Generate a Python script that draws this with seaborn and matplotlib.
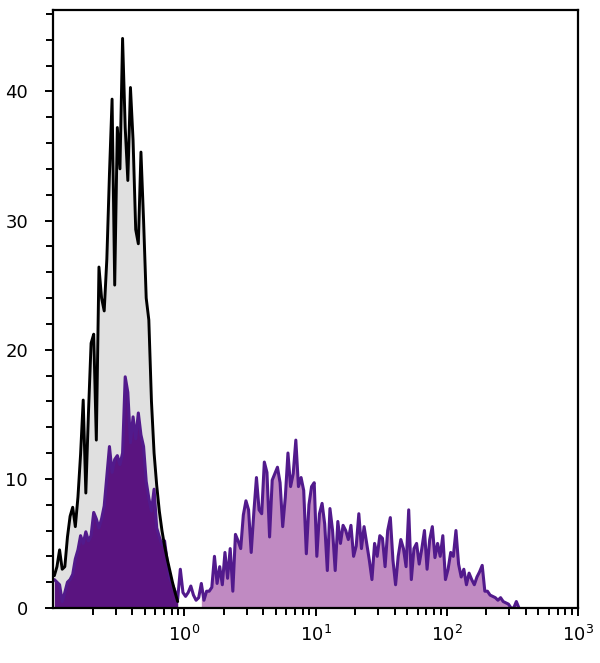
import numpy as np
import pandas as pd
import matplotlib
matplotlib.use("Agg")
import matplotlib.pyplot as plt
import seaborn as sns
from matplotlib.ticker import FixedLocator, LogLocator, NullFormatter, LogFormatterMathtext

# Histogram grid (log10 units): bins of 1/50 decade starting at 10^-1
BIN_START = -1.0
BIN_WIDTH = 0.02

# Isotype control (black outline, grey fill), counts per bin from 10^-1 upward
isotype_counts = [2.5, 3.2, 4.5, 3.0, 3.2, 5.5, 7.1, 7.8, 6.3, 8.6,
                  11.9, 16.1, 8.9, 15.1, 20.5, 21.2, 13.0, 26.4, 24.0, 23.0,
                  27.0, 33.6, 39.4, 25.0, 37.2, 34.0, 44.1, 37.2, 33.1, 40.3,
                  36.2, 29.3, 28.2, 35.3, 30.0, 24.0, 22.3, 16.0, 12.0, 9.5,
                  7.5, 6.0, 4.8, 3.8, 2.9, 2.0, 1.2, 0.5]

# Stained sample (purple outline), counts per bin from 10^-1 upward
stained_counts = [2.2, 2.0, 1.8, 0.5, 1.2, 2.0, 2.2, 2.6, 3.8, 4.5,
                  5.6, 5.0, 5.9, 5.2, 5.6, 7.4, 6.9, 6.2, 6.9, 7.9,
                  10.2, 12.5, 10.5, 11.5, 11.8, 11.1, 12.0, 17.9, 16.7, 12.8,
                  14.8, 13.1, 15.1, 13.4, 12.5, 9.8, 8.5, 7.5, 9.2, 6.2,
                  5.5, 4.9, 5.2, 3.6, 2.3, 1.8, 1.3, 0.7, 3.0, 1.2,
                  0.9, 1.2, 1.7, 1.0, 0.6, 0.8, 1.9, 0.6, 1.3, 1.3,
                  1.6, 4.0, 1.9, 3.2, 1.8, 4.3, 2.3, 4.6, 1.3, 5.7,
                  5.2, 4.6, 7.2, 8.3, 7.6, 4.3, 7.4, 10.1, 7.6, 7.3,
                  11.3, 10.5, 5.5, 9.9, 10.4, 10.9, 9.7, 6.3, 8.6, 12.0,
                  9.4, 10.4, 13.0, 9.4, 10.1, 9.1, 4.2, 8.0, 9.4, 9.7,
                  4.0, 7.3, 8.1, 6.5, 2.9, 7.7, 6.0, 2.9, 6.7, 5.0,
                  6.4, 6.0, 5.3, 6.4, 4.0, 4.8, 7.3, 4.6, 6.3, 5.0,
                  3.7, 2.2, 5.0, 4.0, 5.6, 5.4, 3.2, 6.0, 7.0, 3.7,
                  1.8, 4.0, 5.3, 4.6, 3.2, 7.6, 2.2, 4.6, 5.0, 3.4,
                  4.6, 6.0, 3.0, 5.3, 6.3, 3.9, 5.0, 4.0, 5.6, 2.2,
                  3.0, 4.3, 4.0, 6.0, 3.4, 2.4, 3.0, 1.8, 2.7, 2.2,
                  1.8, 2.4, 2.8, 3.3, 1.3, 1.3, 1.0, 0.9, 0.8, 0.6,
                  0.8, 0.5, 0.4, 0.3, 0.0, 0.0, 0.5, 0.0]

# gates (bin indices) for the two fills of the stained sample
NEG_GATE = (0, 48)      # dark purple fill
POS_GATE = (56, len(stained_counts))  # light purple fill

y_ticks = [0, 10, 20, 30, 40]
x_ticks = [1, 10, 100, 1000]

GREY = "#e0e0e0"
DARK_PURPLE = "#5a1480"
LINE_PURPLE = "#521a8c"
LIGHT_PURPLE = "#c08ac2"


def bin_centers(n, offset=0):
    return 10 ** (BIN_START + BIN_WIDTH * (np.arange(offset, offset + n) + 0.5))


iso_df = pd.DataFrame({"x": bin_centers(len(isotype_counts)), "w": isotype_counts})
st_df = pd.DataFrame({"x": bin_centers(len(stained_counts)), "w": stained_counts})
neg_df = st_df.iloc[NEG_GATE[0]:NEG_GATE[1]]
pos_df = st_df.iloc[POS_GATE[0]:POS_GATE[1]]

sns.set_style("ticks")
plt.rcParams["font.family"] = ["DejaVu Sans"]

fig = plt.figure(figsize=(6.0, 6.63), dpi=100)
ax = fig.add_axes([53 / 600, 1 - 608 / 663, 525 / 600, 598 / 663])


def hist(df, start_bin, **kw):
    n = len(df)
    sns.histplot(data=df, x="x", weights="w", log_scale=True,
                 binwidth=BIN_WIDTH,
                 binrange=(BIN_START + BIN_WIDTH * start_bin,
                           BIN_START + BIN_WIDTH * (start_bin + n)),
                 element="poly", ax=ax, **kw)


# grey fill of isotype
hist(iso_df, 0, fill=True, color=GREY, alpha=1, linewidth=0)
# dark fill (negative population) and light fill (positive population)
hist(neg_df, NEG_GATE[0], fill=True, color=DARK_PURPLE, alpha=1, linewidth=0)
hist(pos_df, POS_GATE[0], fill=True, color=LIGHT_PURPLE, alpha=1, linewidth=0)
# outlines
hist(st_df, 0, fill=False, color=LINE_PURPLE, linewidth=2.2)
hist(iso_df, 0, fill=False, color="black", linewidth=2.1)

ax.set_xscale("log")
ax.set_xlim(0.1, 1000)
ax.set_ylim(0, 46.3)
ax.set_xlabel("")
ax.set_ylabel("")

ax.xaxis.set_major_locator(FixedLocator(x_ticks))
ax.xaxis.set_major_formatter(LogFormatterMathtext())
ax.xaxis.set_minor_locator(LogLocator(base=10, subs=np.arange(2, 10)))
ax.xaxis.set_minor_formatter(NullFormatter())
ax.yaxis.set_major_locator(FixedLocator(y_ticks))
ax.yaxis.set_minor_locator(FixedLocator(np.arange(0, 47, 2)))

ax.tick_params(axis="both", which="major", direction="out", length=6, width=1.4,
               color="black", labelsize=13, labelcolor="black")
ax.tick_params(axis="both", which="minor", direction="out", length=5, width=1.4,
               color="black")
ax.tick_params(axis="x", which="major", pad=6)
ax.tick_params(axis="y", which="major", pad=12)

for s in ax.spines.values():
    s.set_visible(True)
    s.set_linewidth(1.6)
    s.set_color("black")

fig.savefig("out.png", dpi=100)
